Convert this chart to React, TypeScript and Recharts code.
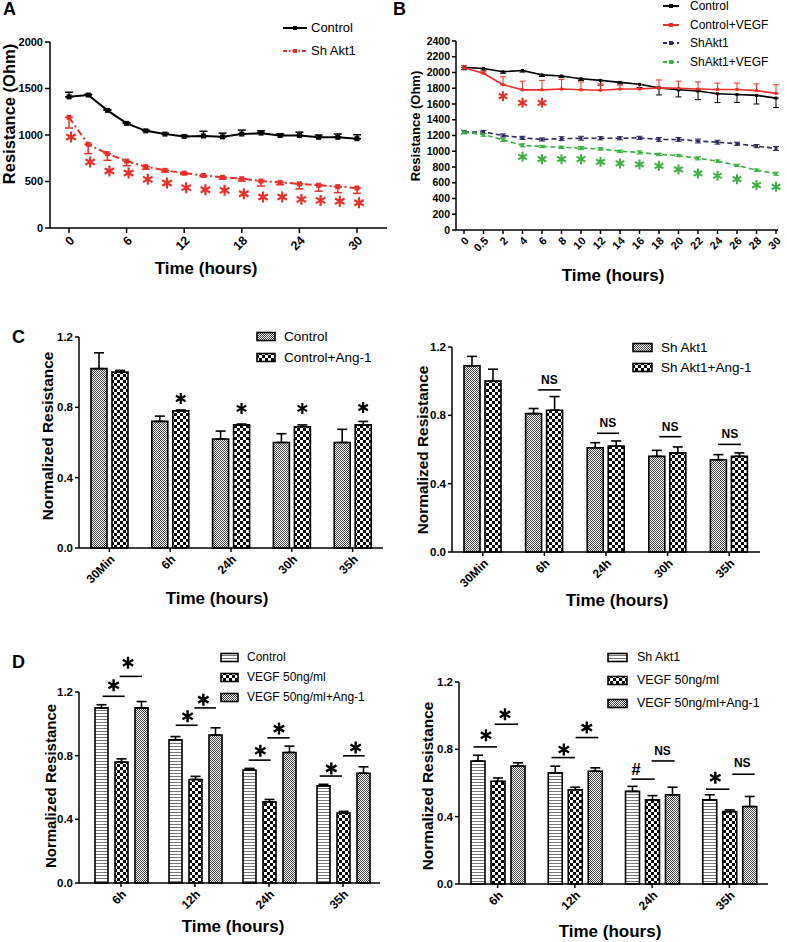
import React from "react";
import {
  LineChart,
  Line,
  BarChart,
  Bar,
  XAxis,
  YAxis,
  ErrorBar,
  ReferenceDot,
  ReferenceLine,
  Legend,
} from "recharts";

const FONT = '"Liberation Sans", Arial, Helvetica, sans-serif';
const RED = "#e8302a";
const GREEN = "#3cb043";
const NAVY = "#2b2b5e";

// ---- panel A: resistance over time (hours 0..30, every 2 h)
const aHours = [0, 2, 4, 6, 8, 10, 12, 14, 16, 18, 20, 22, 24, 26, 28, 30];
const aTicks = [0, 6, 12, 18, 24, 30];
const aControl = [1410, 1430, 1265, 1125, 1045, 1010, 985, 990, 980, 1010, 1020, 995, 995, 975, 975, 960];
const aControlErr = [50, 8, 8, 8, 8, 10, 10, 50, 40, 43, 25, 18, 36, 25, 36, 43];
const aAkt1 = [1190, 900, 800, 720, 660, 620, 590, 565, 545, 530, 505, 490, 475, 460, 445, 430];
const aAkt1Err = [115, 100, 72, 50, 28, 20, 15, 15, 20, 25, 54, 25, 54, 65, 65, 57];
const aStarY = [978, 710, 613, 591, 523, 484, 434, 412, 405, 369, 333, 333, 308, 297, 287, 272];

// ---- panel B
const bTimes = ["0", "0.5", "2", "4", "6", "8", "10", "12", "14", "16", "18", "20", "22", "24", "26", "28", "30"];
const bControl = [2065, 2050, 2010, 2025, 1970, 1955, 1920, 1900, 1875, 1850, 1805, 1780, 1765, 1730, 1720, 1710, 1675];
const bControlErr = [30, 20, 20, 20, 20, 20, 20, 60, 20, 40, 90, 90, 110, 110, 100, 110, 120];
const bVegf = [2060, 1990, 1845, 1780, 1780, 1790, 1780, 1775, 1790, 1790, 1805, 1800, 1790, 1785, 1785, 1770, 1735];
const bVegfErr = [30, 20, 100, 110, 120, 120, 100, 80, 50, 60, 100, 90, 90, 80, 80, 85, 110];
const bAkt1 = [1245, 1245, 1200, 1170, 1150, 1160, 1165, 1165, 1165, 1170, 1150, 1150, 1130, 1115, 1095, 1065, 1035];
const bAkt1Err = [20, 20, 20, 20, 20, 25, 25, 20, 20, 20, 25, 25, 25, 25, 20, 20, 25];
const bAkt1Vegf = [1240, 1210, 1145, 1075, 1060, 1050, 1040, 1030, 1000, 985, 960, 945, 910, 875, 820, 760, 715];
const bAkt1VegfErr = [20, 20, 20, 20, 15, 15, 20, 15, 15, 20, 15, 15, 20, 15, 15, 15, 20];
const bYTicks = [0, 200, 400, 600, 800, 1000, 1200, 1400, 1600, 1800, 2000, 2200, 2400];
const bRedStarX = ["2", "4", "6"];
const bRedStarY = [1700, 1615, 1615];
const bGreenStarX = ["4", "6", "8", "10", "12", "14", "16", "18", "20", "22", "24", "26", "28", "30"];
const bGreenStarY = [930, 900, 900, 900, 866, 845, 832, 815, 769, 718, 689, 646, 570, 549];

// ---- panel C
const cTimes = ["30Min", "6h", "24h", "30h", "35h"];
const cControl = [1.02, 0.72, 0.62, 0.6, 0.6];
const cControlErr = [0.09, 0.03, 0.045, 0.05, 0.075];
const cAng = [1.0, 0.78, 0.7, 0.69, 0.7];
const cAngErr = [0.01, 0.005, 0.005, 0.01, 0.02];
const cStarX = [1.673, 2.673, 3.673, 4.673];
const cStarY = [0.85, 0.794, 0.794, 0.799];

const crAkt1 = [1.09, 0.81, 0.61, 0.56, 0.54];
const crAkt1Err = [0.055, 0.03, 0.03, 0.035, 0.03];
const crAng = [1.0, 0.83, 0.62, 0.58, 0.56];
const crAngErr = [0.07, 0.08, 0.03, 0.035, 0.02];
const crNsX1 = [1.4, 2.354, 3.365, 4.32];
const crNsX2 = [1.765, 2.71, 3.727, 4.69];
const crNsY = [0.949, 0.695, 0.675, 0.63];
const crNsTextX = [1.58, 2.53, 3.54, 4.51];
const crNsTextY = [1.008, 0.758, 0.734, 0.689];

// ---- panel D
const dTimes = ["6h", "12h", "24h", "35h"];
const dControl = [1.1, 0.9, 0.71, 0.61];
const dControlErr = [0.02, 0.02, 0.01, 0.01];
const dVegf = [0.76, 0.65, 0.51, 0.44];
const dVegfErr = [0.02, 0.02, 0.015, 0.01];
const dAng = [1.1, 0.93, 0.82, 0.69];
const dAngErr = [0.04, 0.045, 0.04, 0.04];
const dlSigX1 = [0.252, 0.482, 1.239, 1.491, 2.225, 2.477, 3.185, 3.5];
const dlSigX2 = [0.55, 0.784, 1.536, 1.784, 2.523, 2.779, 3.486, 3.793];
const dlSigY = [1.173, 1.298, 0.991, 1.1, 0.772, 0.912, 0.672, 0.799];
const dlMarkX = [0.4, 0.595, 1.4, 1.613, 2.383, 2.635, 3.342, 3.671];
const dlMarkY = [1.242, 1.384, 1.048, 1.152, 0.831, 0.97, 0.72, 0.851];

const drAkt1 = [0.73, 0.66, 0.55, 0.5];
const drAkt1Err = [0.035, 0.04, 0.03, 0.03];
const drVegf = [0.61, 0.56, 0.5, 0.43];
const drVegfErr = [0.02, 0.015, 0.025, 0.01];
const drAng = [0.7, 0.67, 0.53, 0.46];
const drAngErr = [0.02, 0.02, 0.045, 0.06];
const drSigX1 = [0.188, 0.462, 1.197, 1.509, 2.232, 2.493, 3.197, 3.537];
const drSigX2 = [0.491, 0.766, 1.5, 1.803, 2.535, 2.792, 3.5, 3.827];
const drSigY = [0.8145, 0.949, 0.751, 0.87, 0.623, 0.731, 0.563, 0.652];
const drMarks = ["*", "*", "*", "*", "#", "NS", "*", "NS"];
const drMarkX = [0.349, 0.595, 1.357, 1.654, 2.292, 2.635, 3.318, 3.667];
const drMarkY = [0.884, 1.008, 0.799, 0.929, 0.682, 0.791, 0.631, 0.716];

const normTicks = [0, 0.4, 0.8, 1.2];

const axisLine = { stroke: "#000", strokeWidth: 1.5 };
const tickLine = { stroke: "#000", strokeWidth: 1.5 };
const tickFont = (fs: number, extra: any = {}) => ({
  fontSize: fs,
  fontWeight: 700,
  fill: "#000",
  fontFamily: FONT,
  ...extra,
});

function Patterns() {
  return (
    <svg width={0} height={0} style={{ position: "absolute" }}>
      <defs>
        <pattern id="pDots" width={2} height={2} patternUnits="userSpaceOnUse">
          <rect width={2} height={2} fill="#fff" />
          <rect width={1} height={1} fill="#444" />
          <rect x={1} y={1} width={1} height={1} fill="#444" />
        </pattern>
        <pattern id="pChecker" width={6} height={6} patternUnits="userSpaceOnUse">
          <rect width={6} height={6} fill="#000" />
          <rect width={3} height={3} fill="#fff" />
          <rect x={3} y={3} width={3} height={3} fill="#fff" />
        </pattern>
        <pattern id="pStripes" width={4} height={3} patternUnits="userSpaceOnUse">
          <rect width={4} height={3} fill="#fff" />
          <rect width={4} height={1} fill="#777" />
        </pattern>
      </defs>
    </svg>
  );
}

function Star({ cx, cy, size = 11, color = "#000" }: any) {
  const r = size / 2;
  const dx = r * Math.cos(Math.PI / 6);
  const dy = r * Math.sin(Math.PI / 6);
  return (
    <path
      d={`M${cx},${cy - r}V${cy + r}M${cx - dx},${cy - dy}L${cx + dx},${cy + dy}M${cx - dx},${cy + dy}L${cx + dx},${cy - dy}`}
      stroke={color}
      strokeWidth={size * 0.2}
      fill="none"
    />
  );
}

function markShape(label: string, size = 12) {
  return (p: any) =>
    label === "*" ? (
      <Star cx={p.cx} cy={p.cy} size={size} />
    ) : (
      <text
        x={p.cx}
        y={p.cy}
        textAnchor="middle"
        dominantBaseline="central"
        fontSize={label === "#" ? 17 : 12}
        fontWeight={700}
        fontFamily={FONT}
        fill="#000"
      >
        {label}
      </text>
    );
}

const squareDot = (color: string, size: number) => (props: any) => {
  const { cx, cy, index } = props;
  if (cx == null || cy == null) return <g key={index} />;
  return <rect key={index} x={cx - size / 2} y={cy - size / 2} width={size} height={size} fill={color} />;
};

function LineKey({ items, sampleW, gap, rowH, fontSize }: any) {
  return (
    <div style={{ fontFamily: FONT, fontSize, color: "#000", whiteSpace: "nowrap" }}>
      {items.map((it: any) => (
        <div key={it.name} style={{ display: "flex", alignItems: "center", height: rowH }}>
          <svg width={sampleW} height={8} style={{ marginRight: gap }}>
            <line x1={0} y1={4} x2={sampleW} y2={4} stroke={it.color} strokeWidth={2} strokeDasharray={it.dash} />
            <rect x={sampleW / 2 - 2} y={2} width={4} height={4} fill={it.color} />
          </svg>
          <span>{it.name}</span>
        </div>
      ))}
    </div>
  );
}

function BoxKey({ items, boxW, gap, rowH, fontSize }: any) {
  return (
    <div style={{ fontFamily: FONT, fontSize, color: "#000", whiteSpace: "nowrap" }}>
      {items.map((it: any) => (
        <div key={it.name} style={{ display: "flex", alignItems: "center", height: rowH }}>
          <svg width={boxW + 2} height={11} style={{ marginRight: gap }}>
            <rect x={1} y={1.5} width={boxW} height={8} fill={it.fill} stroke="#000" strokeWidth={1.6} />
          </svg>
          <span>{it.name}</span>
        </div>
      ))}
    </div>
  );
}

function XTitle({ x, y, children }: any) {
  return (
    <div
      style={{
        position: "absolute",
        left: x,
        top: y,
        transform: "translate(-50%, -50%)",
        fontSize: 17,
        fontWeight: 700,
        whiteSpace: "nowrap",
      }}
    >
      {children}
    </div>
  );
}

function YTitle({ x, y, size, children }: any) {
  return (
    <div
      style={{
        position: "absolute",
        left: x,
        top: y,
        transform: "translate(-50%, -50%) rotate(-90deg)",
        fontSize: size,
        fontWeight: 700,
        whiteSpace: "nowrap",
      }}
    >
      {children}
    </div>
  );
}

function Letter({ x, y, children }: any) {
  return (
    <div style={{ position: "absolute", left: x, top: y, fontSize: 18, fontWeight: 700, lineHeight: "18px" }}>
      {children}
    </div>
  );
}

function Panel({ left, top, children }: any) {
  return <div style={{ position: "absolute", left, top }}>{children}</div>;
}

function PanelA() {
  const data = aHours.map((h, i) => ({
    h,
    control: aControl[i],
    controlErr: [0, aControlErr[i]],
    akt1: aAkt1[i],
    akt1Err: [aAkt1Err[i], 0],
  }));
  const keyItems = [
    { name: "Control", color: "#000" },
    { name: "Sh Akt1", color: RED, dash: "4 2 1.5 2" },
  ];
  return (
    <LineChart width={400} height={290} data={data} margin={{ top: 42, right: 13, bottom: 32, left: 0 }}>
      <XAxis
        dataKey="h"
        type="number"
        domain={[0, 30]}
        ticks={aTicks}
        interval={0}
        padding={{ left: 19, right: 30 }}
        height={30}
        axisLine={axisLine}
        tickLine={tickLine}
        tickSize={5}
        angle={-45}
        textAnchor="end"
        tick={tickFont(12.5, { textAnchor: "end" })}
      />
      <YAxis
        type="number"
        domain={[0, 2000]}
        ticks={[0, 500, 1000, 1500, 2000]}
        interval={0}
        width={50}
        axisLine={axisLine}
        tickLine={tickLine}
        tickSize={5}
        tickMargin={2}
        tick={tickFont(11)}
      />
      <Line
        dataKey="control"
        name="Control"
        stroke="#000"
        strokeWidth={2}
        dot={squareDot("#000", 5)}
        activeDot={false}
        isAnimationActive={false}
      >
        <ErrorBar dataKey="controlErr" direction="y" width={4} stroke="#000" strokeWidth={1.5} />
      </Line>
      <Line
        dataKey="akt1"
        name="Sh Akt1"
        stroke={RED}
        strokeWidth={2}
        strokeDasharray="7 3 2 3"
        dot={squareDot(RED, 5)}
        activeDot={false}
        isAnimationActive={false}
      >
        <ErrorBar dataKey="akt1Err" direction="y" width={4} stroke={RED} strokeWidth={1.5} />
      </Line>
      {aHours.map((h, i) => (
        <ReferenceDot
          key={"s" + i}
          x={h}
          y={aStarY[i]}
          ifOverflow="visible"
          shape={(p: any) => <Star cx={p.cx + 2} cy={p.cy} size={11} color={RED} />}
        />
      ))}
      <Legend
        layout="vertical"
        align="center"
        verticalAlign="middle"
        wrapperStyle={{ left: 283, top: 16, width: "auto" }}
        content={() => <LineKey items={keyItems} sampleW={24} gap={4} rowH={23} fontSize={13} />}
      />
    </LineChart>
  );
}

function PanelB() {
  const data = bTimes.map((t, i) => ({
    t,
    control: bControl[i],
    controlErr: [bControlErr[i], 0],
    vegf: bVegf[i],
    vegfErr: [0, bVegfErr[i]],
    akt1: bAkt1[i],
    akt1Err: bAkt1Err[i],
    akt1Vegf: bAkt1Vegf[i],
    akt1VegfErr: bAkt1VegfErr[i],
  }));
  const keyItems = [
    { name: "Control", color: "#000" },
    { name: "Control+VEGF", color: RED },
    { name: "ShAkt1", color: NAVY, dash: "4 3" },
    { name: "ShAkt1+VEGF", color: GREEN, dash: "4 3" },
  ];
  return (
    <LineChart width={397} height={290} data={data} margin={{ top: 41, right: 9, bottom: 30, left: 0 }}>
      <XAxis
        dataKey="t"
        type="category"
        scale="point"
        interval={0}
        padding={{ left: 8, right: 2 }}
        height={30}
        axisLine={axisLine}
        tickLine={tickLine}
        tickSize={4}
        angle={-45}
        textAnchor="end"
        tick={tickFont(11, { textAnchor: "end" })}
      />
      <YAxis
        type="number"
        domain={[0, 2400]}
        ticks={bYTicks}
        interval={0}
        width={66}
        axisLine={axisLine}
        tickLine={tickLine}
        tickSize={4}
        tickMargin={2}
        tick={tickFont(10.5)}
      />
      <Line dataKey="akt1" stroke={NAVY} strokeWidth={1.6} strokeDasharray="5 3" dot={squareDot(NAVY, 3)} activeDot={false} isAnimationActive={false}>
        <ErrorBar dataKey="akt1Err" direction="y" width={3} stroke={NAVY} strokeWidth={1} />
      </Line>
      <Line dataKey="akt1Vegf" stroke={GREEN} strokeWidth={1.6} strokeDasharray="5 3" dot={squareDot(GREEN, 3)} activeDot={false} isAnimationActive={false}>
        <ErrorBar dataKey="akt1VegfErr" direction="y" width={3} stroke={GREEN} strokeWidth={1} />
      </Line>
      <Line dataKey="control" stroke="#000" strokeWidth={1.6} dot={squareDot("#000", 3)} activeDot={false} isAnimationActive={false}>
        <ErrorBar dataKey="controlErr" direction="y" width={3} stroke="#000" strokeWidth={1} />
      </Line>
      <Line dataKey="vegf" stroke={RED} strokeWidth={1.6} dot={squareDot(RED, 3)} activeDot={false} isAnimationActive={false}>
        <ErrorBar dataKey="vegfErr" direction="y" width={3} stroke={RED} strokeWidth={1} />
      </Line>
      {bRedStarX.map((x, i) => (
        <ReferenceDot key={"r" + i} x={x} y={bRedStarY[i]} ifOverflow="visible" shape={(p: any) => <Star cx={p.cx} cy={p.cy} size={10} color={RED} />} />
      ))}
      {bGreenStarX.map((x, i) => (
        <ReferenceDot key={"g" + i} x={x} y={bGreenStarY[i]} ifOverflow="visible" shape={(p: any) => <Star cx={p.cx} cy={p.cy} size={10} color={GREEN} />} />
      ))}
      <Legend
        layout="vertical"
        align="center"
        verticalAlign="middle"
        wrapperStyle={{ left: 273, top: -3, width: "auto" }}
        content={() => <LineKey items={keyItems} sampleW={16} gap={11} rowH={18.5} fontSize={12} />}
      />
    </LineChart>
  );
}

function BarPanel({
  width,
  height,
  margin,
  yWidth,
  cats,
  series,
  barSize,
  barGap,
  padLeft,
  tickFs,
  legend,
  children,
}: any) {
  const data = cats.map((c: string, i: number) => {
    const row: any = { c, pos: i + 0.5 };
    series.forEach((s: any) => {
      row[s.key] = s.values[i];
      row[s.key + "Err"] = [0, s.errors[i]];
    });
    return row;
  });
  return (
    <BarChart
      width={width}
      height={height}
      data={data}
      margin={margin}
      barSize={barSize}
      barGap={barGap}
    >
      <XAxis
        dataKey="c"
        type="category"
        interval={0}
        padding={{ left: padLeft, right: 0 }}
        height={35}
        axisLine={axisLine}
        tickLine={tickLine}
        tickSize={4}
        angle={-45}
        textAnchor="end"
        tick={tickFont(tickFs, { textAnchor: "end" })}
      />
      <XAxis xAxisId="n" dataKey="pos" type="number" domain={[0, cats.length]} allowDataOverflow padding={{ left: padLeft, right: 0 }} hide />
      <YAxis
        type="number"
        domain={[0, 1.2]}
        ticks={normTicks}
        interval={0}
        tickFormatter={(v: number) => v.toFixed(1)}
        width={yWidth}
        axisLine={axisLine}
        tickLine={tickLine}
        tickSize={4}
        tickMargin={2}
        tick={tickFont(11.5)}
      />
      {series.map((s: any) => (
        <Bar key={s.key} dataKey={s.key} name={s.name} fill={s.fill} stroke="#000" strokeWidth={1.6} isAnimationActive={false}>
          <ErrorBar dataKey={s.key + "Err"} direction="y" width={5} stroke="#000" strokeWidth={1.6} />
        </Bar>
      ))}
      {children}
      <Legend
        layout="vertical"
        align="center"
        verticalAlign="middle"
        wrapperStyle={{ left: legend.left, top: legend.top, width: "auto" }}
        content={() => (
          <BoxKey
            items={series.map((s: any) => ({ name: s.name, fill: s.fill }))}
            boxW={legend.boxW}
            gap={legend.gap}
            rowH={legend.rowH}
            fontSize={legend.fontSize}
          />
        )}
      />
    </BarChart>
  );
}

function sigLines(x1: number[], x2: number[], y: number[]) {
  return x1.map((a, i) => (
    <ReferenceLine
      key={"l" + i}
      xAxisId="n"
      segment={[
        { x: a, y: y[i] },
        { x: x2[i], y: y[i] },
      ]}
      stroke="#000"
      strokeWidth={1.6}
      ifOverflow="visible"
    />
  ));
}

function marks(labels: string[], xs: number[], ys: number[], size = 12) {
  return labels.map((l, i) => (
    <ReferenceDot key={"m" + i} xAxisId="n" x={xs[i]} y={ys[i]} ifOverflow="visible" shape={markShape(l, size)} />
  ));
}

export default function App() {
  return (
    <div
      style={{
        position: "absolute",
        left: 0,
        top: 0,
        width: 787,
        height: 942,
        background: "#fff",
        fontFamily: FONT,
        color: "#000",
        overflow: "hidden",
      }}
    >
      <Patterns />

      <Panel left={0} top={0}>
        <PanelA />
      </Panel>
      <Letter x={3} y={0}>A</Letter>
      <YTitle x={9} y={114} size={16.5}>Resistance (Ohm)</YTitle>
      <XTitle x={206} y={269}>Time (hours)</XTitle>

      <Panel left={390} top={0}>
        <PanelB />
      </Panel>
      <Letter x={393} y={0}>B</Letter>
      <YTitle x={415} y={126} size={13}>Resistance (Ohm)</YTitle>
      <XTitle x={613} y={276}>Time (hours)</XTitle>

      <Panel left={0} top={290}>
        <BarPanel
          width={400}
          height={300}
          margin={{ top: 47, right: 17, bottom: 7, left: 0 }}
          yWidth={79}
          cats={cTimes}
          barSize={16}
          barGap={5}
          padLeft={0}
          tickFs={12}
          series={[
            { key: "control", name: "Control", values: cControl, errors: cControlErr, fill: "url(#pDots)" },
            { key: "ang", name: "Control+Ang-1", values: cAng, errors: cAngErr, fill: "url(#pChecker)" },
          ]}
          legend={{ left: 256, top: 36, boxW: 18, gap: 8, rowH: 21.3, fontSize: 13.5 }}
        >
          {marks(["*", "*", "*", "*"], cStarX, cStarY, 11)}
        </BarPanel>
      </Panel>
      <Letter x={12} y={328}>C</Letter>
      <YTitle x={48} y={436} size={15.4}>Normalized Resistance</YTitle>
      <XTitle x={217} y={599}>Time (hours)</XTitle>

      <Panel left={390} top={290}>
        <BarPanel
          width={397}
          height={300}
          margin={{ top: 57, right: 27, bottom: 3, left: 0 }}
          yWidth={62}
          cats={cTimes}
          barSize={16}
          barGap={5}
          padLeft={0}
          tickFs={12}
          series={[
            { key: "akt1", name: "Sh Akt1", values: crAkt1, errors: crAkt1Err, fill: "url(#pDots)" },
            { key: "ang", name: "Sh Akt1+Ang-1", values: crAng, errors: crAngErr, fill: "url(#pChecker)" },
          ]}
          legend={{ left: 242, top: 47, boxW: 19, gap: 8, rowH: 20, fontSize: 13.5 }}
        >
          {sigLines(crNsX1, crNsX2, crNsY)}
          {marks(["NS", "NS", "NS", "NS"], crNsTextX, crNsTextY)}
        </BarPanel>
      </Panel>
      <YTitle x={423} y={450} size={15.4}>Normalized Resistance</YTitle>
      <XTitle x={617} y={601}>Time (hours)</XTitle>

      <Panel left={0} top={590}>
        <BarPanel
          width={400}
          height={352}
          margin={{ top: 102, right: 20, bottom: 24, left: 0 }}
          yWidth={79}
          cats={dTimes}
          barSize={13}
          barGap={7}
          padLeft={5}
          tickFs={12}
          series={[
            { key: "control", name: "Control", values: dControl, errors: dControlErr, fill: "url(#pStripes)" },
            { key: "vegf", name: "VEGF 50ng/ml", values: dVegf, errors: dVegfErr, fill: "url(#pChecker)" },
            { key: "ang", name: "VEGF 50ng/ml+Ang-1", values: dAng, errors: dAngErr, fill: "url(#pDots)" },
          ]}
          legend={{ left: 220, top: 57, boxW: 17, gap: 8, rowH: 20, fontSize: 12 }}
        >
          {sigLines(dlSigX1, dlSigX2, dlSigY)}
          {marks(["*", "*", "*", "*", "*", "*", "*", "*"], dlMarkX, dlMarkY)}
        </BarPanel>
      </Panel>
      <Letter x={12} y={653}>D</Letter>
      <YTitle x={50} y={786} size={15}>Normalized Resistance</YTitle>
      <XTitle x={233} y={927}>Time (hours)</XTitle>

      <Panel left={390} top={590}>
        <BarPanel
          width={397}
          height={352}
          margin={{ top: 92, right: 19, bottom: 23, left: 0 }}
          yWidth={69}
          cats={dTimes}
          barSize={14}
          barGap={6}
          padLeft={0}
          tickFs={12}
          series={[
            { key: "akt1", name: "Sh Akt1", values: drAkt1, errors: drAkt1Err, fill: "url(#pStripes)" },
            { key: "vegf", name: "VEGF 50ng/ml", values: drVegf, errors: drVegfErr, fill: "url(#pChecker)" },
            { key: "ang", name: "VEGF 50ng/ml+Ang-1", values: drAng, errors: drAngErr, fill: "url(#pDots)" },
          ]}
          legend={{ left: 217, top: 55.5, boxW: 19, gap: 9, rowH: 23, fontSize: 12.5 }}
        >
          {sigLines(drSigX1, drSigX2, drSigY)}
          {marks(drMarks, drMarkX, drMarkY)}
        </BarPanel>
      </Panel>
      <YTitle x={428} y={786} size={15.4}>Normalized Resistance</YTitle>
      <XTitle x={610} y={932}>Time (hours)</XTitle>
    </div>
  );
}
